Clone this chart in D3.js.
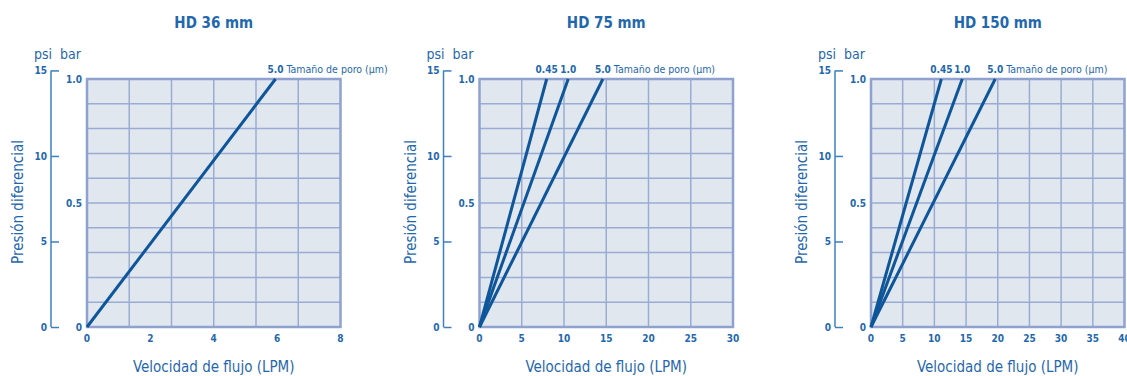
<!DOCTYPE html>
<html>
<head>
<meta charset="utf-8">
<script src="https://cdn.jsdelivr.net/npm/d3@7"></script>
<style>
  body { margin: 0; background: #fff; }
  svg text { font-family: "DejaVu Sans Condensed", "DejaVu Sans", sans-serif; fill: #1f68ad; }
</style>
</head>
<body>
<svg id="graphsvg" width="1127" height="376"></svg>
<script>
// chart data
var titles = ["HD 36 mm", "HD 75 mm", "HD 150 mm"];
var flowMax = [8, 30, 40];
var flowTicks = [[0, 2, 4, 6, 8], [0, 5, 10, 15, 20, 25, 30], [0, 5, 10, 15, 20, 25, 30, 35, 40]];
var gridCols = [6, 6, 8];
var barTicks = [0, 0.5, 1.0];
var psiTicks = [0, 5, 10, 15];
var psiPerBar = 14.5;
// pore sizes and flow (LPM) reached at 1.0 bar, one list per chart
var pores = [["5.0"], ["0.45", "1.0", "5.0"], ["0.45", "1.0", "5.0"]];
var flowAt1bar = [[5.95], [7.95, 10.5, 14.6], [11.1, 14.4, 19.6]];

(function() {
var svg = d3.select("#graphsvg");
var plotLeft = [87, 479.5, 871],
    plotW = 253.5,
    plotTop = 79, plotBottom = 327;

var lineBlue = "#0e5699", gridCol = "#9aacd3", bg = "#e1e7ef";

titles.forEach(function(t, i) {
  var x0 = plotLeft[i];
  var g = svg.append("g");
  var x = d3.scaleLinear().domain([0, flowMax[i]]).range([x0, x0 + plotW]);
  var y = d3.scaleLinear().domain([0, 1]).range([plotBottom, plotTop]);
  var yPsi = d3.scaleLinear().domain([0, psiPerBar]).range([plotBottom, plotTop]);

  // title
  g.append("text")
    .attr("x", x0 + plotW / 2).attr("y", 28)
    .attr("text-anchor", "middle")
    .style("font-size", "15px").style("font-weight", "bold")
    .text(t);

  // plot background
  g.append("rect")
    .attr("x", x0).attr("y", plotTop)
    .attr("width", plotW).attr("height", plotBottom - plotTop)
    .attr("fill", bg);

  // grid
  var colStep = flowMax[i] / gridCols[i];
  g.selectAll(".vgrid").data(d3.range(1, gridCols[i])).enter().append("line")
    .attr("x1", function(d) { return x(d * colStep); })
    .attr("x2", function(d) { return x(d * colStep); })
    .attr("y1", plotTop).attr("y2", plotBottom)
    .attr("stroke", gridCol).attr("stroke-width", 1.5);
  g.selectAll(".hgrid").data(d3.range(1, 10)).enter().append("line")
    .attr("y1", function(d) { return y(d / 10); })
    .attr("y2", function(d) { return y(d / 10); })
    .attr("x1", x0).attr("x2", x0 + plotW)
    .attr("stroke", gridCol).attr("stroke-width", 1.5);
  g.append("rect")
    .attr("x", x0).attr("y", plotTop)
    .attr("width", plotW).attr("height", plotBottom - plotTop)
    .attr("fill", "none").attr("stroke", "#8ea1cf").attr("stroke-width", 2.5);

  // flow lines
  flowAt1bar[i].forEach(function(f) {
    g.append("line")
      .attr("x1", x(0)).attr("y1", y(0))
      .attr("x2", x(f)).attr("y2", y(1))
      .attr("stroke", lineBlue).attr("stroke-width", 3);
  });

  // pore size labels
  pores[i].forEach(function(p, j) {
    g.append("text")
      .attr("x", x(flowAt1bar[i][j])).attr("y", 73)
      .attr("text-anchor", "middle")
      .style("font-size", "10px").style("font-weight", "bold")
      .text(p);
  });
  var last = pores[i].length - 1;
  g.append("text")
    .attr("x", x(flowAt1bar[i][last]) + 11).attr("y", 73)
    .style("font-size", "10.5px")
    .text("Tamaño de poro (µm)");

  // x axis labels
  g.selectAll(".xt").data(flowTicks[i]).enter().append("text")
    .attr("x", function(d) { return x(d); }).attr("y", 342)
    .attr("text-anchor", "middle")
    .style("font-size", "10px").style("font-weight", "bold")
    .text(function(d) { return d; });

  // bar labels
  g.selectAll(".bt").data(barTicks).enter().append("text")
    .attr("x", x0 - 5).attr("y", function(d) { return y(d) + 4; })
    .attr("text-anchor", "end")
    .style("font-size", "10px").style("font-weight", "bold")
    .text(function(d) { return d === 0 ? "0" : d.toFixed(1); });

  // psi axis
  var psiAxis = g.append("g")
    .attr("transform", "translate(" + (x0 - 36) + ",0)")
    .call(d3.axisRight(yPsi).tickValues(psiTicks).tickSize(8).tickSizeOuter(0).tickFormat(""));
  psiAxis.select(".domain").attr("stroke", "#3d7fc0").attr("stroke-width", 1.5)
    .attr("d", "M0," + yPsi(15) + "V" + yPsi(0));
  psiAxis.selectAll(".tick line").attr("stroke", "#3d7fc0").attr("stroke-width", 1.5);
  g.selectAll(".pt").data(psiTicks).enter().append("text")
    .attr("x", x0 - 40).attr("y", function(d) { return yPsi(d) + 4; })
    .attr("text-anchor", "end")
    .style("font-size", "10px").style("font-weight", "bold")
    .text(function(d) { return d; });

  // unit labels
  g.append("text").attr("x", x0 - 53).attr("y", 59)
    .style("font-size", "14px").text("psi");
  g.append("text").attr("x", x0 - 27).attr("y", 59)
    .style("font-size", "14px").text("bar");

  // axis titles
  g.append("text")
    .attr("transform", "translate(" + (x0 - 64) + "," + 202 + ") rotate(-90)")
    .attr("text-anchor", "middle")
    .style("font-size", "15px")
    .text("Presión  diferencial");
  g.append("text")
    .attr("x", x0 + plotW / 2).attr("y", 372)
    .attr("text-anchor", "middle")
    .style("font-size", "15px")
    .text("Velocidad de flujo (LPM)");
});
})();
</script>
</body>
</html>
